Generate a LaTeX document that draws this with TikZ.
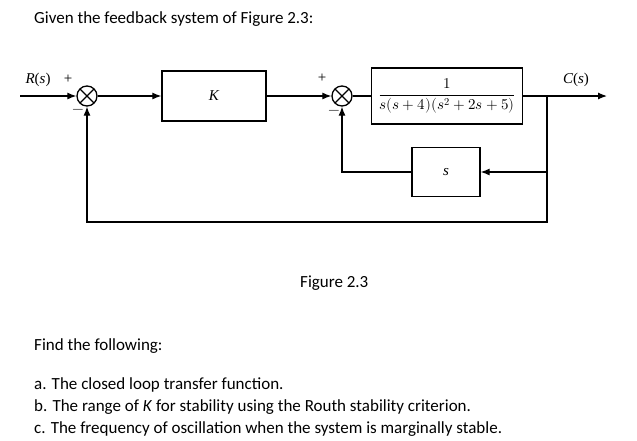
\documentclass[tikz,border=0pt]{standalone}
\usepackage{fontspec}
\setmainfont{Carlito}
\usepackage{unicode-math}
\usetikzlibrary{positioning,arrows.meta}
\newfontfamily\diag{Liberation Serif}
\begin{document}
\begin{tikzpicture}[x=1pt,y=-1pt,
    blk/.style={draw,line width=1.3pt,minimum height=50pt},
    sumj/.style={draw,line width=1.3pt,circle,minimum size=20pt,inner sep=0pt,
        path picture={\draw[line width=1.3pt] (path picture bounding box.north west)--(path picture bounding box.south east)
        (path picture bounding box.north east)--(path picture bounding box.south west);}},
    sig/.style={line width=1.2pt,-{Latex[length=9pt,width=7pt]}},
    lbl/.style={font=\diag\fontsize{15}{17}\selectfont},
    txt/.style={anchor=west,font=\fontsize{17}{20}\selectfont,inner sep=0pt}]
    \useasboundingbox (0,0) rectangle (637,440);

    % Text
    \node[txt] (title) at (34,19) {Given the feedback system of Figure 2.3:};
    \node[txt] (cap) at (300,283) {Figure 2.3};
    \node[txt] (find) at (34,346) {Find the following:};
    \node[txt] (qa) at (34,385) {a. The closed loop transfer function.};
    \node[txt] (qb) at (34,407) {b. The range of \textit{K} for stability using the Routh stability criterion.};
    \node[txt] (qc) at (34,429) {c. The frequency of oscillation when the system is marginally stable.};

    % Blocks
    \coordinate (in) at (20,96);
    \node[sumj] (s1) at (87,96) {};
    \node[blk,minimum width=104pt] (k) at (214,96) {\diag\fontsize{15}{17}\selectfont\itshape K};
    \node[blk,minimum width=151pt,minimum height=56pt] (g) at (447,96)
        {\fontsize{15}{18}\selectfont$\displaystyle\frac{1}{s(s+4)(s^2+2s+5)}$};
    \node[sumj] (s2) at (342,96) {};
    \node[blk,minimum width=68pt,minimum height=49pt] (h) at (446,172) {\diag\fontsize{15}{17}\selectfont\itshape s};
    \coordinate (br) at (547,96);
    \coordinate (out) at (607,96);
    \coordinate (lo) at (547,222);

    % Signals
    \draw[sig] (in) -- (s1);
    \draw[sig] (s1) -- (k);
    \draw[sig] (k) -- (s2);
    \draw[line width=1.2pt] (s2) -- (g);
    \draw[sig] (g) -- (out);
    \draw[sig] (br) |- (h);
    \draw[sig] (h) -| (s2);
    \draw[sig] (br) -- (lo) -| (s1);

    % Labels
    \node[lbl] (r) at (38,80) {\itshape R\/\upshape(\itshape s\/\upshape)};
    \node[lbl] (c) at (576,80) {\itshape C\/\upshape(\itshape s\/\upshape)};
    \node[lbl] at (68,79) {+};
    \node[lbl] at (78,111) {$-$};
    \node[lbl] at (322,78) {+};
    \node[lbl] at (334,112) {$-$};
\end{tikzpicture}
\end{document}
